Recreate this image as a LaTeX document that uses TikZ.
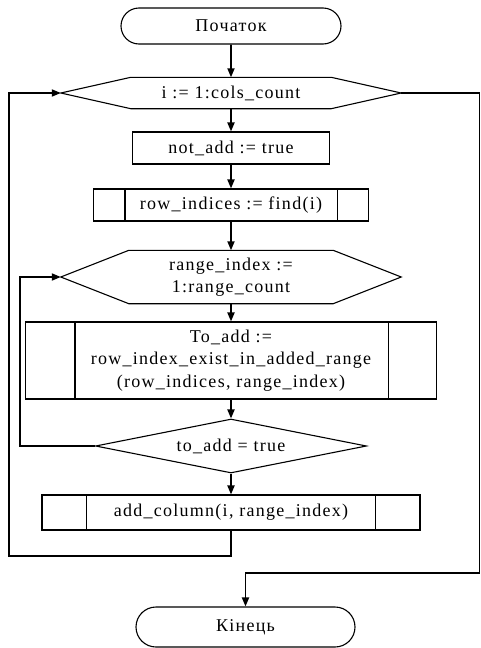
\documentclass[tikz,border=0pt]{standalone}
\usepackage{fontspec}
\setmainfont{Liberation Serif}[LetterSpace=7]
\usetikzlibrary{shapes.geometric,shapes.misc,arrows.meta}

\begin{document}
\begin{tikzpicture}[x=1pt,y=-1pt]
\tikzstyle{every node}=[inner sep=0pt, align=center, font=\fontsize{18}{22.5}\selectfont]
\tikzstyle{blockbox}=[draw, line width=1.1pt, shape=rectangle]
\tikzstyle{termbox}=[draw, line width=1.1pt, shape=rounded rectangle]
\tikzstyle{flow}=[line width=1.8pt, -{Triangle[length=9pt,width=7pt]}]
\useasboundingbox (0,0) rectangle (481,648);
\node at (231,26) [termbox, minimum width=220, minimum height=36] (start) {Початок};
\node at (231,93) [minimum width=340, minimum height=31] (h1) {i := 1:cols\_count};
\node at (231,148) [blockbox, minimum width=197, minimum height=32] (na) {not\_add := true};
\node at (231,205) [blockbox, minimum width=275, minimum height=32] (ri) {row\_indices := find(i)};
\node at (231,277) [minimum width=340, minimum height=53] (h2) {range\_index :=\\1:range\_count};
\node at (231,360.5) [blockbox, minimum width=411, minimum height=77] (ta) {To\_add :=\\row\_index\_exist\_in\_added\_range\\(row\_indices, range\_index)};
\node at (231,446) [draw, line width=1.1pt, shape=diamond, aspect=5, minimum width=271, minimum height=54] (cd) {to\_add = true};
\node at (231,512.5) [blockbox, minimum width=378, minimum height=35] (ac) {add\_column(i, range\_index)};
\node at (245.5,627) [termbox, minimum width=219, minimum height=40] (end) {Кінець};
\coordinate (c1) at (9,556);
\coordinate (c2) at (20,446);
\coordinate (c3) at (479.5,573);
% hexagons of the loops
\draw[line width=1.1pt]
(h1.west) -- ([xshift=70]h1.north west) -- ([xshift=-70]h1.north east) -- (h1.east)
-- ([xshift=-70]h1.south east) -- ([xshift=70]h1.south west) -- cycle
(h2.west) -- ([xshift=68]h2.north west) -- ([xshift=-68]h2.north east) -- (h2.east)
-- ([xshift=-68]h2.south east) -- ([xshift=68]h2.south west) -- cycle;
% side bars of the subroutine blocks
\draw[line width=1.1pt]
([xshift=32]ri.north west) -- ([xshift=32]ri.south west)
([xshift=-32]ri.north east) -- ([xshift=-32]ri.south east)
([xshift=50]ta.north west) -- ([xshift=50]ta.south west)
([xshift=-49]ta.north east) -- ([xshift=-49]ta.south east)
([xshift=45]ac.north west) -- ([xshift=45]ac.south west)
([xshift=-45]ac.north east) -- ([xshift=-45]ac.south east);
\draw[flow] (start) -- (h1);
\draw[flow] (h1) -- (na);
\draw[flow] (na) -- (ri);
\draw[flow] (ri) -- (h2);
\draw[flow] (h2) -- (ta);
\draw[flow] (ta) -- (cd);
\draw[flow] (cd) -- (ac);
\draw[flow] (ac.south) |- (c1) |- (h1.west);
\draw[flow] (cd.west) -- (c2) |- (h2.west);
\draw[flow] (h1.east) -| (c3) -| (end.north);
\end{tikzpicture}
\end{document}
